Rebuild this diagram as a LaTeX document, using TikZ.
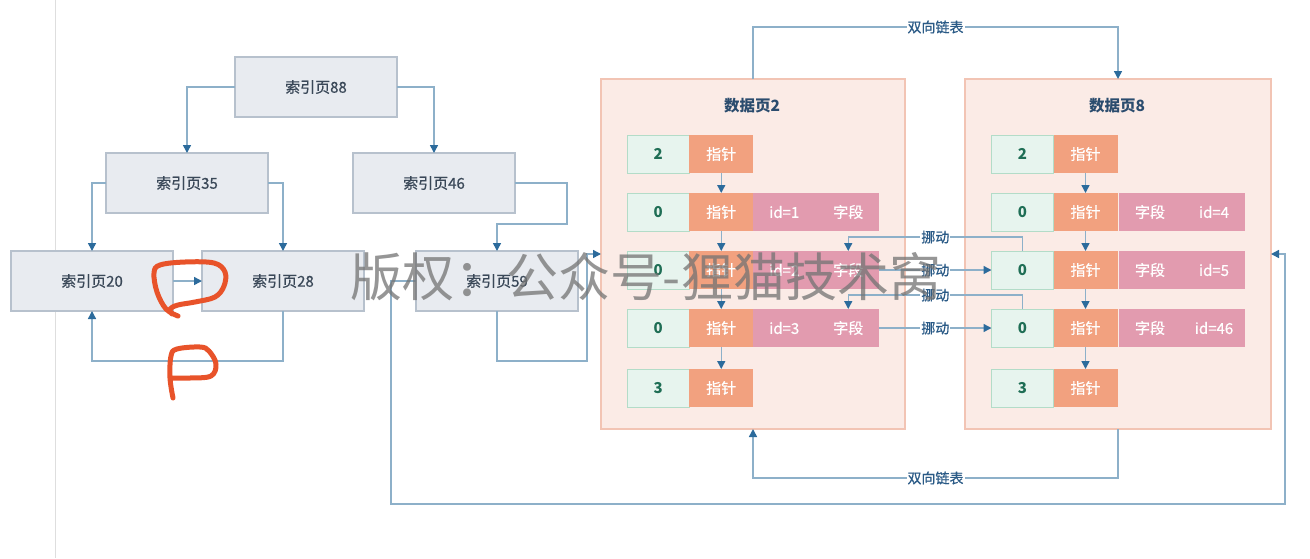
\documentclass[tikz,border=0pt]{standalone}
\usepackage{fontspec}
\setmainfont{Noto Sans CJK SC}
\newfontfamily\medfont{Noto Sans CJK SC}[FakeBold=0.6]
\usetikzlibrary{arrows.meta,calc}
\definecolor{ibox}{HTML}{E8EBF0}
\definecolor{iboxd}{HTML}{B7C1CD}
\definecolor{itext}{HTML}{3A4858}
\definecolor{connc}{HTML}{8DB0C9}
\definecolor{arr}{HTML}{2C6B9C}
\definecolor{pagef}{HTML}{FBEBE6}
\definecolor{paged}{HTML}{F2C4B4}
\definecolor{gfill}{HTML}{E7F4EE}
\definecolor{gdraw}{HTML}{B3DCC8}
\definecolor{gtext}{HTML}{1F6E55}
\definecolor{ofill}{HTML}{F2A17F}
\definecolor{pfill}{HTML}{E29BAF}
\definecolor{ttext}{HTML}{2B4C6E}
\definecolor{ltext}{HTML}{2A5A86}
\definecolor{scrib}{HTML}{E8532A}
\definecolor{vline}{HTML}{DEDEDE}
\newcommand{\prow}[4]{%
  \node[gcell] (#1g) at (#2,#3) {#4};
  \node[ocell,anchor=west] (#1o) at (#1g.east) {指针};
}
\newcommand{\pfld}[4]{%
  \node[pcell,anchor=west] (#1p) at ($(#1o.east)+(#2,0)$) {};
  \node[ptext] (#1a) at ($(#1p.center)+(-32,0)$) {#3};
  \node[ptext] (#1b) at ($(#1p.center)+(32,0)$) {#4};
}
\tikzset{
  ibox/.style={draw=iboxd, fill=ibox, line width=1.2pt, minimum width=162pt, minimum height=60pt, inner sep=0pt, outer sep=0pt, text=itext, font=\medfont\fontsize{15}{18}\selectfont},
  pagebox/.style={draw=paged, fill=pagef, line width=1.2pt, inner sep=0pt, outer sep=0pt, minimum height=350pt},
  ptitle/.style={text=ttext, font=\fontsize{15.5}{18}\selectfont\bfseries},
  gcell/.style={draw=gdraw, fill=gfill, line width=1pt, minimum width=62pt, minimum height=38pt, inner sep=0pt, outer sep=0pt, text=gtext, font=\fontsize{15}{18}\selectfont\bfseries},
  ocell/.style={fill=ofill, minimum width=64pt, minimum height=38pt, inner sep=0pt, outer sep=0pt, text=white, font=\medfont\fontsize{15}{18}\selectfont},
  pcell/.style={fill=pfill, minimum width=126pt, minimum height=38pt, inner sep=0pt, outer sep=0pt},
  ptext/.style={text=white, inner sep=0pt, font=\medfont\fontsize{15}{18}\selectfont},
  conn/.style={draw=connc, line width=1.5pt},
  arrow/.style={conn, -{Triangle[length=8pt,width=8pt,color=arr]}},
  lbl/.style={fill=white, inner xsep=1pt, inner ysep=0pt, text=ltext, font=\medfont\fontsize{14}{16}\selectfont},
  scribble/.style={draw=scrib, line width=5pt, line cap=round, line join=round}
}
\begin{document}
\begin{tikzpicture}[x=1pt,y=-1pt]
\useasboundingbox (0,0) rectangle (1310,558);
\fill[white] (0,0) rectangle (1310,558);
\draw[vline, line width=1pt] (55,0) -- (55,558);

% index pages
\node[ibox] (i88) at (316,87) {索引页88};
\node[ibox] (i35) at (187,183) {索引页35};
\node[ibox] (i46) at (434,183) {索引页46};
\node[ibox] (i20) at (92,281) {索引页20};
\node[ibox] (i28) at (283,281) {索引页28};
\node[ibox] (i59) at (497,281) {索引页59};

\draw[arrow] (i88.west) -| (i35.north);
\draw[arrow] (i88.east) -| (i46.north);
\draw[arrow] (i35.west) -| (i20.north);
\draw[arrow] (i35.east) -| (i28.north);
\coordinate (c46) at (567,224);
\draw[arrow] (i46.east) -| (c46) -| (i59.north);
\draw[arrow] (i20.east) -- (i28.west);
\coordinate (c28) at (283,361);
\draw[arrow] (i28.south) -- (c28) -| (i20.south);

% data pages
\node[pagebox, minimum width=304pt] (p2) at (753,254) {};
\node[ptitle] (p2t) at (752,106) {数据页2};
\node[pagebox, minimum width=306pt] (p8) at (1118,254) {};
\node[ptitle] (p8t) at (1117,106) {数据页8};

\prow{a1}{658.25}{154}{2}
\prow{a2}{658.25}{212}{0}\pfld{a2}{0}{id=1}{字段}
\prow{a3}{658.25}{270}{0}\pfld{a3}{0}{id=2}{字段}
\prow{a4}{658.25}{328}{0}\pfld{a4}{0}{id=3}{字段}
\prow{a5}{658.25}{388}{3}

\prow{b1}{1022.5}{154}{2}
\prow{b2}{1022.5}{212}{0}\pfld{b2}{1.5}{字段}{id=4}
\prow{b3}{1022.5}{270}{0}\pfld{b3}{1.5}{字段}{id=5}
\prow{b4}{1022.5}{328}{0}\pfld{b4}{1.5}{字段}{id=46}
\prow{b5}{1022.5}{388}{3}

\foreach \p in {a,b}{
  \draw[arrow] (\p1o.south) -- (\p2o.north);
  \draw[arrow] (\p2o.south) -- (\p3o.north);
  \draw[arrow] (\p3o.south) -- (\p4o.north);
  \draw[arrow] (\p4o.south) -- (\p5o.north);
}

% moves
\coordinate (m1) at ($(b3g.north)+(0,-14)$);
\draw[arrow] (b3g.north) -- (m1) -| node[lbl,pos=0.25] (l1) {挪动} (a3b |- a3p.north);
\draw[arrow] (a3p.east) -- node[lbl] (l2) {挪动} (b3g.west);
\coordinate (m2) at ($(b4g.north)+(0,-14)$);
\draw[arrow] (b4g.north) -- (m2) -| node[lbl,pos=0.25] (l3) {挪动} (a4b |- a4p.north);
\draw[arrow] (a4p.east) -- node[lbl] (l4) {挪动} (b4g.west);

% doubly linked list
\coordinate (t1) at ($(p2.north)+(0,-52)$);
\draw[arrow] (p2.north) -- (t1) -| node[lbl,pos=0.25] (l5) {双向链表} (p8.north);
\coordinate (t2) at ($(p8.south)+(0,49)$);
\draw[arrow] (p8.south) -- (t2) -| node[lbl,pos=0.25] (l6) {双向链表} (p2.south);

% leaf links
\coordinate (c59) at (587,361);
\draw[arrow] (i59.south) |- (c59) |- (p2.west);
\coordinate (g1) at (391,504);
\coordinate (g2) at (1285,504);
\draw[arrow] (i59.west) -| (g1) -- (g2) |- (p8.east);

% watermark
\node[text=black!55, opacity=0.75, inner sep=0pt, font=\fontsize{52}{60}\selectfont] (wm) at (646,277) {版权：公众号-狸猫技术窝};

% hand-drawn marks
\draw[scribble] plot[smooth, tension=0.6] coordinates {(178,316) (166,309) (157,292) (154,273) (160,265) (185,262) (214,263) (225,272) (224,286) (215,297) (195,302) (178,305) (170,309) (172,314)};
\draw[scribble] plot[smooth, tension=0.6] coordinates {(173,398) (170,378) (171,356) (177,349) (200,347) (209,351) (216,364) (211,376) (190,378) (172,378)};
\end{tikzpicture}
\end{document}
